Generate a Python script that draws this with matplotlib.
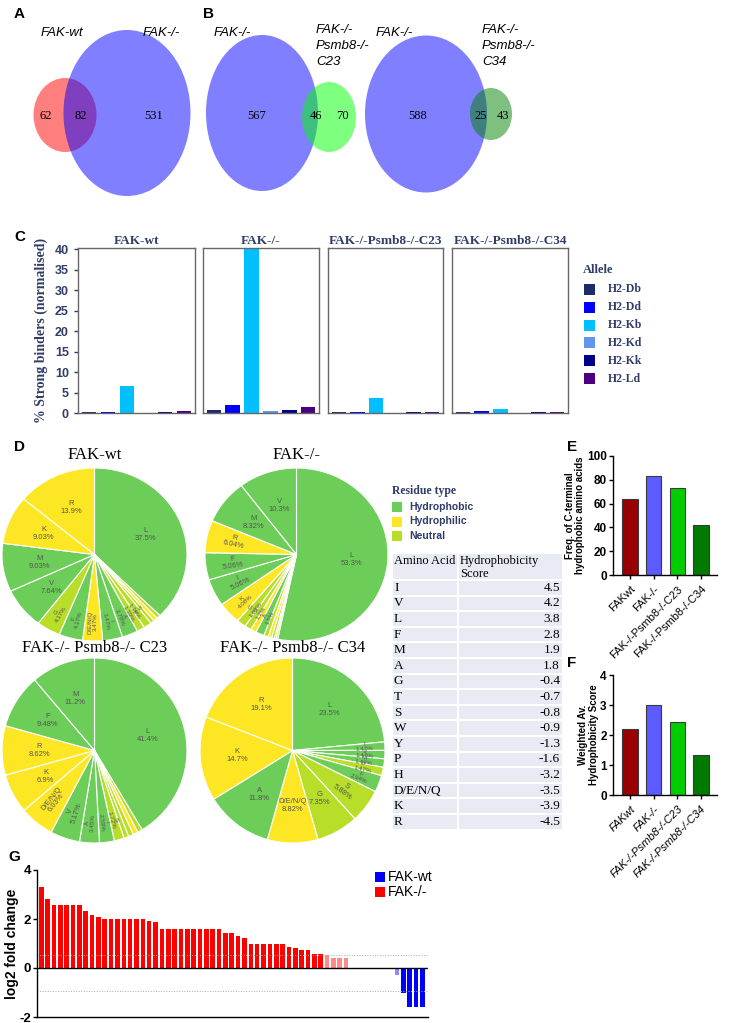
import numpy as np
import matplotlib
matplotlib.use('Agg')
import matplotlib.pyplot as plt
from matplotlib.patches import Ellipse, Rectangle

plt.rcParams['font.family'] = ['Liberation Sans', 'DejaVu Sans']
plt.rcParams['axes.unicode_minus'] = False
SERIF = ['Liberation Serif', 'DejaVu Serif']
NAVY = '#2f3d68'

### data - venn
venn_a = [62, 82, 531]
venn_b1 = [567, 46, 70]
venn_b2 = [588, 25, 43]

### data - strong binders (C)
alleles = ['H2-Db', 'H2-Dd', 'H2-Kb', 'H2-Kd', 'H2-Kk', 'H2-Ld']
allele_colors = ['#1e2a6e', '#0000ff', '#00bfff', '#6495ed', '#00008b', '#4b0082']
binder_groups = ['FAK-wt', 'FAK-/-', 'FAK-/-Psmb8-/-C23', 'FAK-/-Psmb8-/-C34']
binders_wt = [0.3, 0.3, 6.6, 0.0, 0.3, 0.4]
binders_ko = [0.8, 2.0, 42.0, 0.5, 0.7, 1.4]
binders_c23 = [0.2, 0.2, 3.7, 0.0, 0.2, 0.2]
binders_c34 = [0.3, 0.4, 1.0, 0.0, 0.2, 0.2]

### data - pies (D), clockwise from 12 o'clock
pie_wt_names = ['L', 'P', 'H', 'Y', 'S', 'T', 'A', 'I', 'D/E/N/Q', 'F', 'G', 'V', 'M', 'K', 'R']
pie_wt_vals = [37.5, 0.69, 0.69, 0.69, 1.39, 1.39, 2.78, 3.47, 3.47, 4.17, 4.17, 7.64, 9.03, 9.03, 13.9]
pie_ko_names = ['L', 'W', 'P', 'Y', 'H', 'T', 'A', 'D/E/N/Q', 'S', 'G', 'K', 'I', 'F', 'R', 'M', 'V']
pie_ko_vals = [53.3, 0.3, 0.3, 0.5, 0.6, 0.8, 1.5, 1.0, 1.2, 1.63, 4.08, 5.06, 5.06, 6.04, 8.32, 10.3]
pie_c23_names = ['L', 'Y', 'H', 'T', 'G', 'S', 'I', 'A', 'V', 'D/E/N/Q', 'K', 'R', 'F', 'M']
pie_c23_vals = [41.4, 0.86, 0.86, 0.86, 0.86, 1.72, 2.59, 3.45, 5.17, 6.03, 6.9, 8.62, 9.48, 11.2]
pie_c34_names = ['L', 'I', 'V', 'M', 'P', 'F', 'S', 'G', 'D/E/N/Q', 'A', 'K', 'R']
pie_c34_vals = [23.5, 1.47, 1.47, 1.47, 1.47, 2.94, 5.88, 7.35, 8.82, 11.8, 14.7, 19.1]

hydrophobic = ['I', 'V', 'L', 'F', 'M', 'A']
hydrophilic = ['H', 'D/E/N/Q', 'K', 'R']
res_colors = {'Hydrophobic': '#6dcd59', 'Hydrophilic': '#fde725', 'Neutral': '#b8de29'}

### data - hydrophobicity table
table_aa = ['I', 'V', 'L', 'F', 'M', 'A', 'G', 'T', 'S', 'W', 'Y', 'P', 'H', 'D/E/N/Q', 'K', 'R']
table_score = [4.5, 4.2, 3.8, 2.8, 1.9, 1.8, -0.4, -0.7, -0.8, -0.9, -1.3, -1.6, -3.2, -3.5, -3.9, -4.5]

### data - E / F
ef_groups = ['FAKwt', 'FAK-/-', 'FAK-/-Psmb8-/-C23', 'FAK-/-Psmb8-/-C34']
ef_colors = ['#990000', '#5b5bff', '#00cc00', '#007a00']
freq_cterm = [64, 83, 73, 42]
weighted_score = [2.2, 3.0, 2.45, 1.35]

### data - G
fold_ko = [3.3, 2.8, 2.58, 2.58, 2.58, 2.58, 2.58, 2.32, 2.17, 2.07,
           2.0, 2.0, 2.0, 2.0, 2.0, 2.0, 2.0, 1.93, 1.87,
           1.58, 1.58, 1.58, 1.58, 1.58, 1.58, 1.58, 1.58, 1.58, 1.58,
           1.42, 1.42, 1.32, 1.22, 1.0, 1.0, 1.0, 1.0, 1.0, 1.0,
           0.86, 0.81, 0.74, 0.74, 0.58, 0.58, 0.52, 0.42, 0.42, 0.42]
fold_wt = [-0.27, -1.0, -1.6, -1.6, -1.6]
fold_up_line = 0.52
fold_down_line = -0.93

W, H = 734, 1023
fig = plt.figure(figsize=(W / 100, H / 100), dpi=100)


def px_axes(x0, y0, x1, y1):
    return fig.add_axes([x0 / W, 1 - y1 / H, (x1 - x0) / W, (y1 - y0) / H])


# transparent overlay in pixel coords, drawn above everything
canvas = px_axes(0, 0, W, H)
canvas.set_xlim(0, W)
canvas.set_ylim(H, 0)
canvas.axis('off')
canvas.set_zorder(10)
canvas.patch.set_visible(False)

# panel letters
for lt, x, y in [('A', 14, 14), ('B', 203, 14), ('C', 14, 237), ('D', 14, 447),
                 ('E', 567, 447), ('F', 567, 663), ('G', 8, 857)]:
    canvas.text(x, y, lt, fontsize=11, fontweight='bold', va='center', ha='left')

### A / B venns
def ell(cx, cy, w, h, col):
    canvas.add_patch(Ellipse((cx, cy), w, h, facecolor=col, alpha=0.5, edgecolor='none'))

def venn_label(x, y, s, ha='center'):
    canvas.text(x, y, s, fontsize=9.5, style='italic', ha=ha, va='center', linespacing=1.45)

ell(65, 115, 63, 74, '#ff0000')
ell(127, 113, 127, 166, '#0000ff')
for (x, v) in zip([46, 81, 154], venn_a):
    canvas.text(x, 116, str(v), family=SERIF, fontsize=9, ha='center', va='center')
venn_label(62, 33, 'FAK-wt')
venn_label(161, 33, 'FAK-/-')

ell(262, 113, 112, 156, '#0000ff')
ell(329, 117, 54, 70, '#00ff00')
for (x, v) in zip([257, 316, 342], venn_b1):
    canvas.text(x, 116, str(v), family=SERIF, fontsize=9, ha='center', va='center')
venn_label(232, 33, 'FAK-/-')
venn_label(316, 46, 'FAK-/-\nPsmb8-/-\nC23', ha='left')

ell(426, 114, 122, 157, '#0000ff')
ell(491, 114, 42, 52, '#008000')
for (x, v) in zip([418, 481, 503], venn_b2):
    canvas.text(x, 116, str(v), family=SERIF, fontsize=9, ha='center', va='center')
venn_label(394, 33, 'FAK-/-')
venn_label(482, 46, 'FAK-/-\nPsmb8-/-\nC34', ha='left')

### C strong binders
c_boxes = [(78, 195), (203, 319), (328, 443), (452, 568)]
c_data = [binders_wt, binders_ko, binders_c23, binders_c34]
for i, ((x0, x1), vals, title) in enumerate(zip(c_boxes, c_data, binder_groups)):
    ax = px_axes(x0, 248, x1, 413)
    ax.bar(np.arange(len(alleles)), vals, width=0.78, color=allele_colors)
    ax.set_xlim(-0.58, 5.58)
    ax.set_ylim(0, 40.3)
    ax.set_xticks([])
    for s in ax.spines.values():
        s.set_color('#666666')
        s.set_linewidth(1)
    ax.set_title(title, family=SERIF, fontsize=9.5, fontweight='bold', color=NAVY, pad=3)
    if i == 0:
        ax.set_yticks(np.arange(0, 41, 5))
        ax.tick_params(axis='y', labelsize=9, labelcolor=NAVY, color=NAVY, length=3, width=1)
        for t in ax.get_yticklabels():
            t.set_fontweight('bold')
        ax.set_ylabel('% Strong binders (normalised)', family=SERIF, fontsize=10,
                      fontweight='bold', color=NAVY, labelpad=5)
    else:
        ax.set_yticks([])

canvas.text(583, 270, 'Allele', family=SERIF, fontsize=9, fontweight='bold', color=NAVY, va='center')
for j, (a, c) in enumerate(zip(alleles, allele_colors)):
    y = 289 + j * 17.8
    canvas.add_patch(Rectangle((584, y - 5), 11, 11, facecolor=c, edgecolor='none'))
    canvas.text(608, y + 0.5, a, family=SERIF, fontsize=8.5, fontweight='bold', color=NAVY, va='center')

### D pies
def res_class(n):
    if n in hydrophobic:
        return 'Hydrophobic'
    if n in hydrophilic:
        return 'Hydrophilic'
    return 'Neutral'


def draw_pie(box, names, vals, title, ty):
    x0, y0, x1, y1 = box
    ax = px_axes(x0, y0, x1, y1)
    cols = [res_colors[res_class(n)] for n in names]
    wedges, _ = ax.pie(vals, colors=cols, startangle=90, counterclock=False, radius=1.0,
                       wedgeprops=dict(edgecolor='white', linewidth=0.8))
    ax.set_aspect('auto')
    ax.set_xlim(-1.0, 1.0)
    ax.set_ylim(-1.0, 1.0)
    total = sum(vals)
    for w, n, v in zip(wedges, names, vals):
        pct = 100 * v / total
        if pct < 1.2:
            continue
        ang = np.deg2rad((w.theta1 + w.theta2) / 2)
        if pct >= 6.5:
            r = 0.6
            ax.text(r * np.cos(ang), r * np.sin(ang), '%s\n%.3g%%' % (n, pct), fontsize=5.5,
                    color='#555555', ha='center', va='center')
        else:
            r = 0.78 if pct < 5 else 0.7
            rot = np.rad2deg(ang)
            if rot > 90 or rot < -90:
                rot += 180
            ax.text(r * np.cos(ang), r * np.sin(ang), '%s\n%.3g%%' % (n, pct),
                    fontsize=4.5 if pct < 5 else 5.5,
                    color='#555555', ha='center', va='center', rotation=(rot + 360) % 360,
                    rotation_mode='anchor', linespacing=1.0)
    canvas.text((x0 + x1) / 2, ty, title, family=SERIF, fontsize=12, ha='center', va='center')

draw_pie((2, 468, 187, 641), pie_wt_names, pie_wt_vals, 'FAK-wt', 455)
draw_pie((205, 468, 388, 641), pie_ko_names, pie_ko_vals, 'FAK-/-', 455)
draw_pie((2, 658, 187, 843), pie_c23_names, pie_c23_vals, 'FAK-/- Psmb8-/- C23', 648)
draw_pie((200, 658, 385, 843), pie_c34_names, pie_c34_vals, 'FAK-/- Psmb8-/- C34', 648)

canvas.text(392, 491, 'Residue type', family=SERIF, fontsize=8.5, fontweight='bold', color=NAVY, va='center')
for j, (k, c) in enumerate(res_colors.items()):
    y = 507 + j * 14.5
    canvas.add_patch(Rectangle((392, y - 5), 10, 10, facecolor=c, edgecolor='none'))
    canvas.text(409, y, k, fontsize=7.5, fontweight='bold', color=NAVY, va='center')

### hydrophobicity table
tx0, tmid, tx1 = 392, 458, 563
ty0, thead, rowh = 553, 27, 15.6
cell_bg = '#e8ebf4'
canvas.add_patch(Rectangle((tx0, ty0), tmid - tx0, thead, facecolor=cell_bg, edgecolor='white', lw=1.5))
canvas.add_patch(Rectangle((tmid, ty0), tx1 - tmid, thead, facecolor=cell_bg, edgecolor='white', lw=1.5))
canvas.text(tx0 + 2, ty0 + 8, 'Amino Acid', family=SERIF, fontsize=9, va='center')
canvas.text(tmid + 2, ty0 + 8, 'Hydrophobicity', family=SERIF, fontsize=9, va='center')
canvas.text(tmid + 2, ty0 + 21, 'Score', family=SERIF, fontsize=9, va='center')
for j, (aa, sc) in enumerate(zip(table_aa, table_score)):
    y = ty0 + thead + j * rowh
    canvas.add_patch(Rectangle((tx0, y), tmid - tx0, rowh, facecolor=cell_bg, edgecolor='white', lw=1.5))
    canvas.add_patch(Rectangle((tmid, y), tx1 - tmid, rowh, facecolor=cell_bg, edgecolor='white', lw=1.5))
    canvas.text(tx0 + 2, y + rowh / 2, aa, family=SERIF, fontsize=9.5, va='center')
    canvas.text(tx1 - 3, y + rowh / 2, '%g' % sc, family=SERIF, fontsize=9.5, va='center', ha='right')

### E / F bars
def small_bar(box, vals, yticks, ylabel, italic):
    ax = px_axes(*box)
    x = np.arange(len(vals))
    ax.bar(x, vals, width=0.65, color=ef_colors, edgecolor='#3a3a3a', linewidth=0.8)
    ax.set_xlim(-0.72, 3.68)
    ax.set_ylim(0, yticks[-1])
    ax.set_yticks(yticks)
    ax.set_xticks(x)
    ax.set_xticklabels(ef_groups, rotation=45, ha='right', rotation_mode='anchor',
                       fontsize=8, style='italic' if italic else 'normal')
    ax.spines['top'].set_visible(False)
    ax.spines['right'].set_visible(False)
    for s in ['left', 'bottom']:
        ax.spines[s].set_linewidth(1)
    ax.tick_params(axis='both', width=1, length=3)
    ax.tick_params(axis='y', labelsize=8.5, pad=1.5)
    for t in ax.get_yticklabels():
        t.set_fontweight('bold')
    ax.set_ylabel(ylabel, fontsize=7, fontweight='bold', labelpad=1, linespacing=1.05)
    return ax

small_bar((613, 456, 717, 575), freq_cterm, [0, 20, 40, 60, 80, 100],
          'Freq. of C-terminal\nhydrophobic amino acids', False)
small_bar((613, 675, 717, 795), weighted_score, [0, 1, 2, 3, 4],
          'Weighted Av.\nHydrophobicity Score', True)

### G fold change
ax = px_axes(37, 870, 428, 1017)
xk = np.arange(len(fold_ko))
ko_cols = ['#ff0000' if v >= 0.55 else '#ff8a8a' for v in fold_ko]
ax.bar(xk, fold_ko, width=0.72, color=ko_cols)
xw = np.arange(len(fold_wt)) + len(fold_ko) + 7
wt_cols = ['#0000ff' if v <= -0.93 else '#8c8cff' for v in fold_wt]
ax.bar(xw, fold_wt, width=0.72, color=wt_cols)
ax.axhline(0, color='black', lw=1)
ax.axhline(fold_up_line, color='#aaaaaa', lw=0.7, ls=':')
ax.axhline(fold_down_line, color='#aaaaaa', lw=0.7, ls=':')
ax.set_xlim(-0.67, 60.9)
ax.set_ylim(-2, 4)
ax.set_yticks([-2, 0, 2, 4])
ax.set_xticks([])
ax.spines['top'].set_visible(False)
ax.spines['right'].set_visible(False)
ax.spines['left'].set_linewidth(1)
ax.spines['bottom'].set_linewidth(1)
ax.tick_params(axis='y', labelsize=9.5, width=1, length=3, pad=1.5)
for t in ax.get_yticklabels():
    t.set_fontweight('bold')
ax.set_ylabel('log2 fold change', fontsize=10, fontweight='bold', labelpad=0)

for j, (lab, c) in enumerate([('FAK-wt', '#0000ff'), ('FAK-/-', '#ff0000')]):
    y = 877 + j * 15
    canvas.add_patch(Rectangle((375, y - 5), 10, 10, facecolor=c, edgecolor='none'))
    canvas.text(388, y, lab, fontsize=10, va='center')

fig.savefig('out.png', dpi=100)
